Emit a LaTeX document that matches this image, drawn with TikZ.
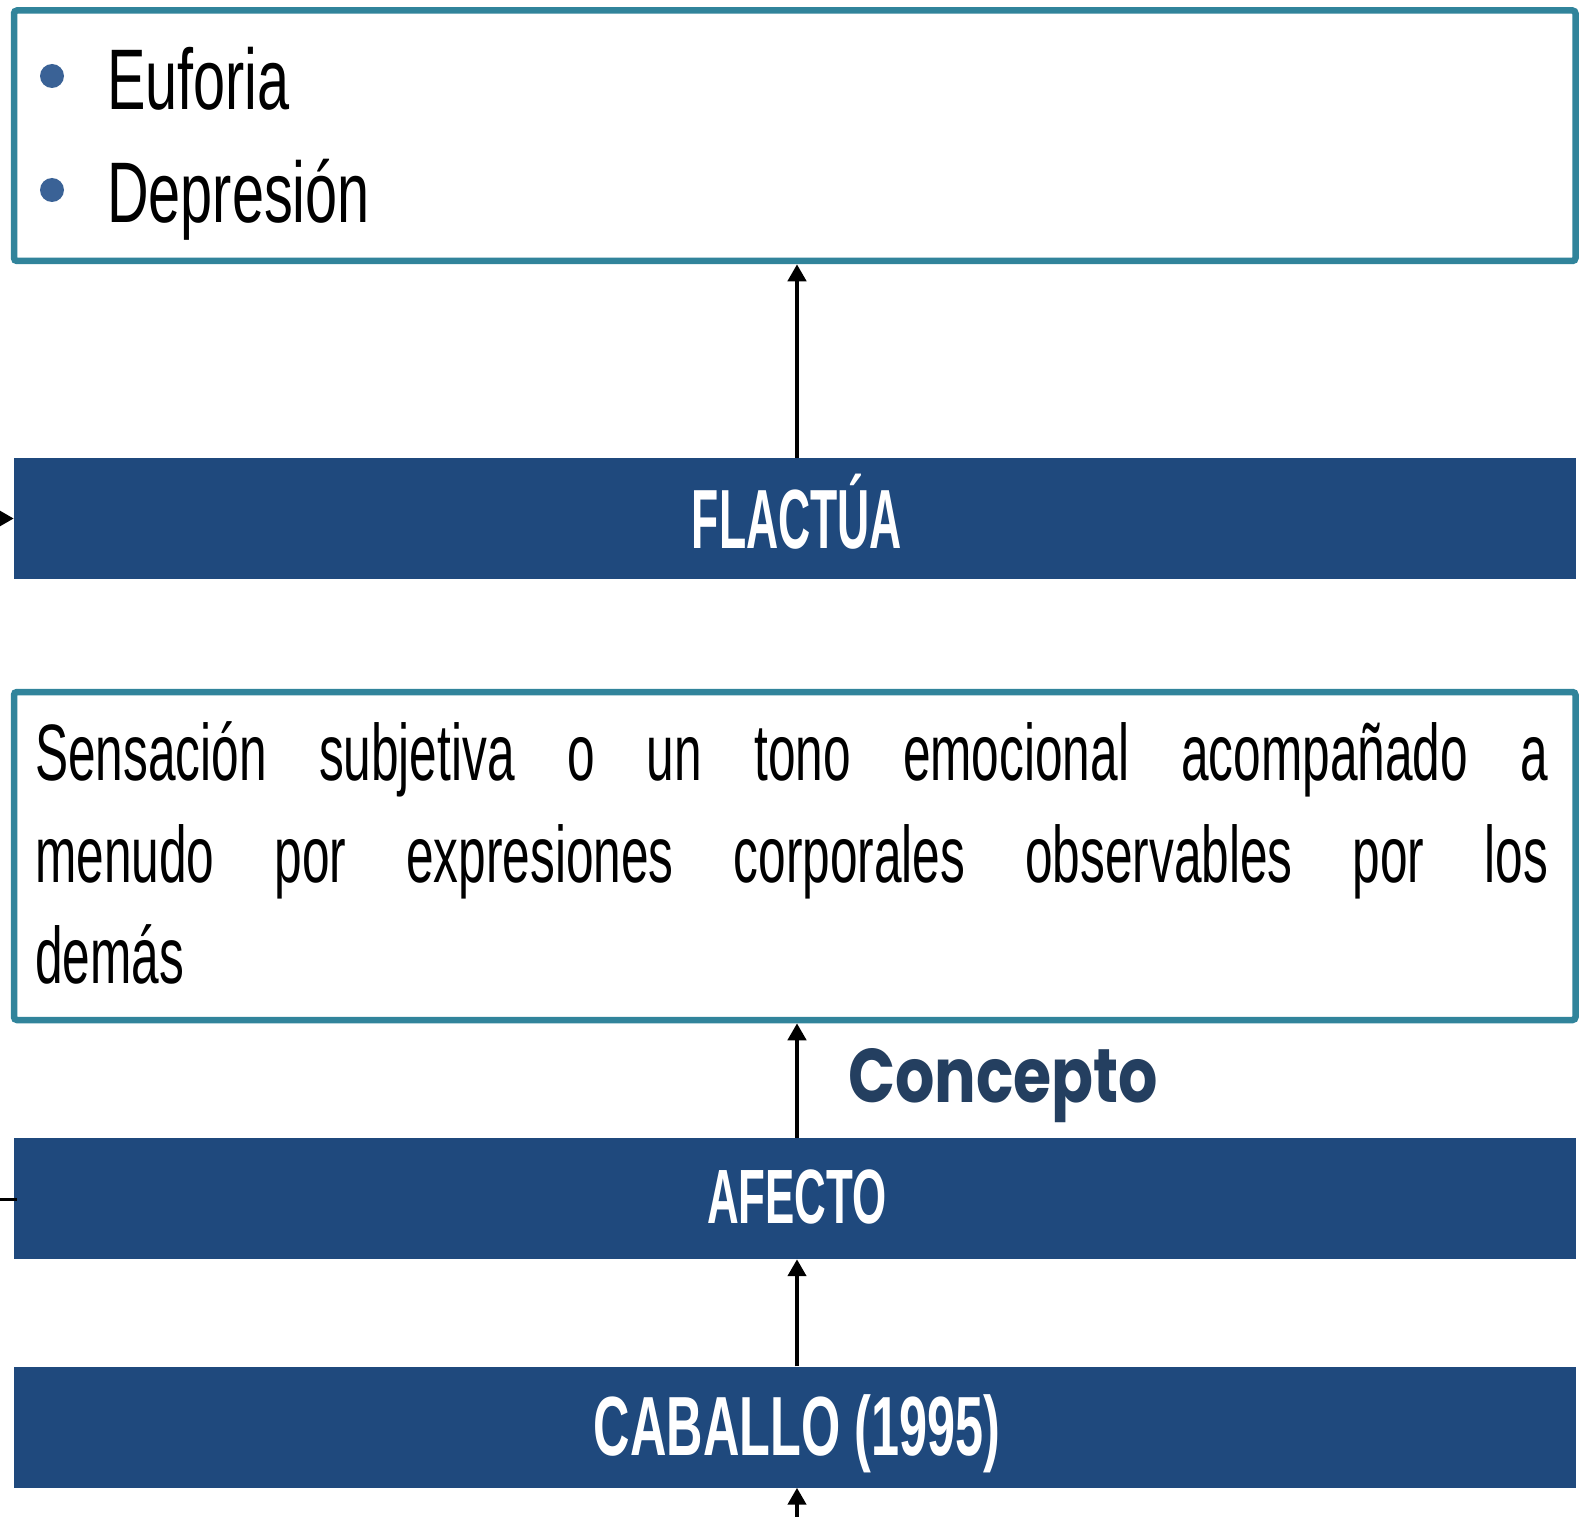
\documentclass[tikz,border=0pt]{standalone}
\usepackage{fontspec}
\setmainfont{Liberation Sans}
\newfontfamily\condfont[FakeStretch=0.62]{Liberation Sans}
\newfontfamily\bulletfont[FakeStretch=0.67]{Liberation Sans}
\newfontfamily\barfont{Liberation Sans}
\newfontfamily\comicfont{Poppins}
\usetikzlibrary{arrows.meta}
\definecolor{tealline}{RGB}{49,132,155}
\definecolor{barblue}{RGB}{31,73,125}
\definecolor{bulletblue}{RGB}{58,98,150}
\definecolor{conceptblue}{RGB}{36,63,96}
\tikzset{
  framebox/.style={draw=tealline, line width=6.5pt, rounded corners=3pt, fill=white, inner sep=0pt},
  barbox/.style={fill=barblue, inner sep=0pt, minimum width=1562pt, minimum height=121pt},
  barlabel/.style={inner sep=0pt, anchor=base, text=white, font=\barfont\bfseries\fontsize{84}{90}\selectfont},
  conn/.style={line width=4.5pt, -{Triangle[width=18pt,length=17pt]}},
  plainline/.style={line width=3pt},
  bodytext/.style={inner sep=0pt, anchor=base west, font=\condfont\fontsize{80}{96}\selectfont},
  bullettext/.style={inner sep=0pt, anchor=base west, font=\bulletfont\fontsize{86}{96}\selectfont},
  bulletdot/.style={circle, fill=bulletblue, inner sep=0pt, minimum size=24pt}
}
\begin{document}
\begin{tikzpicture}[x=1pt,y=-1pt]
\useasboundingbox (0,0) rectangle (1588,1517);
% top box
\node[framebox, minimum width=1561.5pt, minimum height=250.5pt] (top) at (794.75,135.75) {};
\node[bulletdot] (b1) at (52,76) {};
\node[bulletdot] (b2) at (52,190) {};
\node[bullettext] (t1) at (107,110) {Euforia};
\node[bullettext] (t2) at (107,223) {Depresión};
% FLACTUA bar
\node[barbox] (flac) at (795,518.5) {};
\node[barlabel] (flacl) at (797,548) {\scalebox{0.53}[1]{FLACTÚA}};
% middle box
\node[framebox, minimum width=1561.5pt, minimum height=328pt] (def) at (794.75,856) {};
\node[bodytext] (l1) at (35,780) {\makebox[1513pt][s]{Sensación subjetiva o un tono emocional acompañado a}};
\node[bodytext] (l2) at (35,882) {\makebox[1513pt][s]{menudo por expresiones corporales observables por los}};
\node[bodytext] (l3) at (35,983) {demás};
% concepto label
\node[inner sep=0pt, anchor=base west, text=conceptblue] (conc) at (848,1102)
  {\resizebox{310pt}{54pt}{\comicfont\bfseries Concepto}};
% AFECTO bar
\node[barbox] (afec) at (795,1198.5) {};
\node[barlabel, font=\barfont\bfseries\fontsize{77}{84}\selectfont] (afecl) at (797,1223) {\scalebox{0.57}[1]{AFECTO}};
% CABALLO bar
\node[barbox] (caba) at (795,1427) {};
\node[barlabel] (cabal) at (797,1455) {\scalebox{0.60}[1]{CABALLO (1995)}};
% connectors
\coordinate (leftA) at (0,518.5);
\coordinate (leftB) at (0,1199);
\coordinate (bottom) at (797,1517);
\draw[conn] (flac.north -| 797,0) -- (top.south -| 797,0);
\draw[conn] (afec.north -| 797,0) -- (def.south -| 797,0);
\draw[conn] (caba.north -| 797,0) -- (afec.south -| 797,0);
\draw[conn] (bottom) -- (caba.south -| 797,0);
\draw[conn] (leftA) -- (flac.west);
\draw[plainline] (leftB) -- ([xshift=3pt]afec.west |- leftB);
\end{tikzpicture}
\end{document}
